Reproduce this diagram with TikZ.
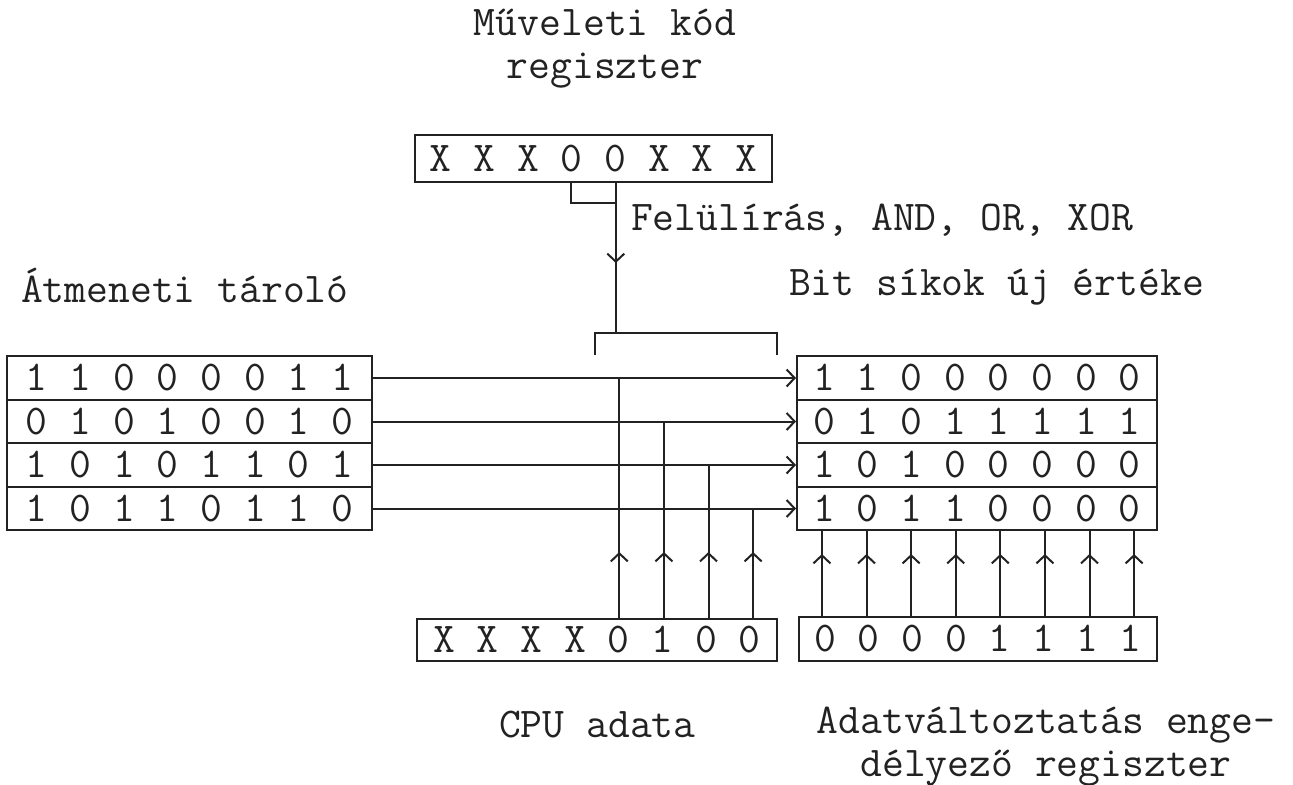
\documentclass[tikz,border=0pt]{standalone}
\usepackage{fontspec}
\usepackage{tikz}
\usetikzlibrary{arrows.meta, calc, decorations.markings}
\definecolor{inkGray}{HTML}{222222}
\newcommand{\regfont}{\fontsize{21.2}{21.5}\selectfont\ttfamily}
\tikzset{
  bitTip/.tip={Straight Barb[length=4pt, width=8.5pt]},
  regBox/.style={rectangle, draw=inkGray, line width=1pt, inner sep=0pt,
                 font=\regfont, minimum width=180pt, minimum height=22pt},
  oldRow/.style={regBox, minimum width=182.5pt, minimum height=21.75pt},
  newRow/.style={regBox, minimum width=180pt, minimum height=21.75pt},
  lbl/.style={inner sep=0pt, font=\regfont, align=center},
  arrowH/.style={-bitTip, inkGray, line width=1pt},
  arrowMid/.style={postaction={decorate}, decoration={markings,
                   mark=at position #1 with {\arrow{bitTip}}}},
}

\begin{document}
\begin{tikzpicture}[x=0.5pt, y=-0.5pt, line width=1pt, inkGray]
    \useasboundingbox (0,0) rectangle (1293,784);

    \node[lbl] (opcLbl) at (605,48.5) {Műveleti kód\\regiszter};
    \node[regBox, minimum width=178.5pt, minimum height=23.5pt] (opc) at (593.5,158.5) {X X X 0 0 X X X};
    \node[lbl, anchor=west] (opLbl) at (630,220) {Felülírás, AND, OR, XOR};
    \node[lbl, anchor=west] (oldLbl) at (20,285) {Átmeneti tároló};
    \node[lbl, anchor=west] (newLbl) at (788,287) {Bit síkok új értéke};

    \foreach \old/\new [count=\i] in {1 1 0 0 0 0 1 1/1 1 0 0 0 0 0 0,
        0 1 0 1 0 0 1 0/0 1 0 1 1 1 1 1,
        1 0 1 0 1 1 0 1/1 0 1 0 0 0 0 0,
        1 0 1 1 0 1 1 0/1 0 1 1 0 0 0 0} {
      \node[oldRow] (old\i) at (189.5,{334.5+43.5*\i}) {\old};
      \node[newRow] (new\i) at (977,{334.5+43.5*\i}) {\new};
      \draw[arrowH] (old\i.east) -- (new\i.west);
    }

    % kod bitek -> muvelet
    \coordinate (o4) at ($(opc.south)+(-22.3,0)$);
    \coordinate (o5) at ($(opc.south)+(22.3,0)$);
    \coordinate (brL) at (595,355);
    \coordinate (brR) at (777,355);
    \coordinate (brT) at (686,333);
    \draw (o4) |- ($(o5)+(0,20)$);
    \draw[arrowMid=40pt] (o5) -- (o5 |- brT);
    \draw (brL) |- (brT) -| (brR);

    \node[regBox, minimum height=21pt] (cpu) at (597,640) {X X X X 0 1 0 0};
    \node[regBox, minimum width=179pt] (ena) at (978,639) {0 0 0 0 1 1 1 1};
    \node[lbl, anchor=west] (cpuLbl) at (498,725) {CPU adata};
    \node[lbl] (enaLbl) at (1046,747) {Adatváltoztatás enge-\\délyező regiszter};

    \foreach \j in {5,...,8} {
      \pgfmathtruncatemacro{\k}{\j-4}
      \coordinate (c\j) at ($(cpu.north)+({44.6*\j-200.7},0)$);
      \draw[arrowMid=33pt] (c\j) -- (c\j |- old\k.east);
    }
    \foreach \j in {1,...,8} {
      \coordinate (e\j) at ($(ena.north)+({44.6*\j-200.7},0)$);
      \draw[arrowMid=31pt] (e\j) -- (e\j |- new4.south);
    }
\end{tikzpicture}
\end{document}
